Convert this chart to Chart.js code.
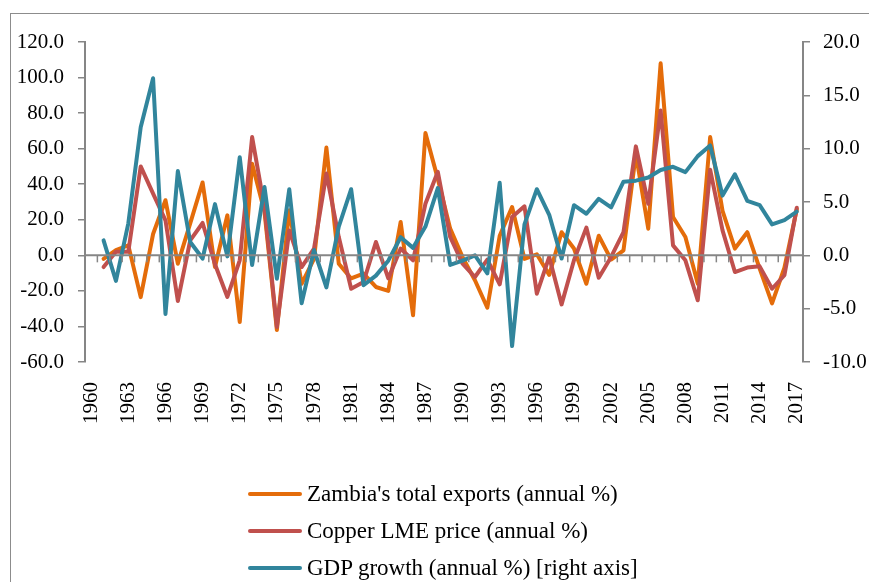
<!DOCTYPE html>
<html>
<head>
<meta charset="utf-8">
<script src="https://cdn.jsdelivr.net/npm/chart.js@4"></script>
<style>
  html, body { margin: 0; padding: 0; background: #fff; overflow: hidden; }
  #wrap { position: relative; width: 869px; height: 582px; overflow: hidden; }
  #frame { position: absolute; left: 10px; top: 13px; width: 900px; height: 620px; border: 1.5px solid #8c8c8c; box-sizing: border-box; }
  #myChart { position: absolute; left: 0; top: 0; }
  #legend { position: absolute; left: 248px; top: 475px; font-family: 'Liberation Serif', serif; font-size: 23px; color: #000; }
  .item { height: 37px; display: flex; align-items: center; white-space: nowrap; }
  .swatch { display: inline-block; width: 54px; height: 4px; border-radius: 2px; margin-right: 5px; }
</style>
</head>
<body>
<div id="wrap">
  <div id="frame"></div>
  <canvas id="myChart" width="869" height="582"></canvas>
  <div id="legend"></div>
</div>
<script>
var years = [];
for (var y = 1960; y <= 2017; y++) years.push(String(y));

var exportsGrowth = [null,
  -2, 3, 5.6, -23.5, 12, 31, -4.7, 18, 41, -6.6,
  22.5, -37.5, 51.5, 24.5, -42, 25.3, -16, -2, 60.6, -4.7,
  -13, -10.3, -17.8, -20, 18.8, -33.7, 68.8, 43, 15, -1,
  -14, -29.5, 11, 27.2, -2, 0.6, -11, 13, 3.8, -16,
  11, -2.4, 2.8, 57, 15, 108, 21.6, 10.3, -16, 66.5,
  25, 3.8, 13, -7.5, -27, -7, 26];

var copperPrice = [null,
  -6.6, 2, 2, 50, 34.7, 19.7, -25.7, 8.4, 18.2, -5,
  -23.4, -2.8, 66.5, 27, -40.3, 14, -6.6, 3.8, 46, 10.3,
  -18.8, -15, 7.5, -13, 3.8, -2.8, 29, 47, 10.3, -4.7,
  -12.2, -2.4, -16.3, 21.6, 27.6, -21.6, -0.9, -27.6, -2.8, 15.6,
  -12.6, -0.9, 13.1, 61.3, 29, 81.5, 5.6, -2.8, -25.3, 48.2,
  14, -9.4, -6.9, -6.2, -18.8, -11.2, 26.8];

var gdpGrowth = [null,
  1.4, -2.4, 3.0, 12.0, 16.6, -5.5, 7.9, 1.25, -0.3, 4.8,
  -0.1, 9.2, -0.9, 6.4, -2.2, 6.2, -4.5, 0.5, -3.0, 2.7,
  6.2, -2.8, -1.9, -0.5, 1.7, 0.7, 2.7, 6.3, -0.9, -0.5,
  0.0, -1.7, 6.8, -8.5, 2.9, 6.2, 3.8, -0.3, 4.7, 3.9,
  5.3, 4.5, 6.9, 7.0, 7.3, 8.0, 8.3, 7.8, 9.3, 10.3,
  5.6, 7.6, 5.1, 4.7, 2.9, 3.3, 4.1];

var seriesNames = ["Zambia's total exports (annual %)", "Copper LME price (annual %)", "GDP growth (annual %) [right axis]"];
var seriesColors = ['#e46c0a', '#c0504d', '#31859c'];

var axisGray = '#868686';
var tickFont = { family: 'Liberation Serif', size: 21 };

// zero line with category tick marks (Excel style axis crossing at 0)
var zeroAxis = {
  id: 'zeroAxis',
  afterDatasetsDraw: function (chart) {
    var ctx = chart.ctx;
    var xs = chart.scales.x;
    var y0 = chart.scales.y.getPixelForValue(0);
    ctx.save();
    ctx.strokeStyle = axisGray;
    ctx.lineWidth = 2;
    ctx.beginPath();
    ctx.moveTo(chart.chartArea.left, y0);
    ctx.lineTo(chart.chartArea.right, y0);
    ctx.stroke();
    ctx.lineWidth = 1.5;
    for (var i = 1; i < years.length; i++) {
      var bx = (xs.getPixelForValue(i - 1) + xs.getPixelForValue(i)) / 2;
      ctx.beginPath();
      ctx.moveTo(bx, y0);
      ctx.lineTo(bx, y0 + 7);
      ctx.stroke();
    }
    ctx.restore();
  }
};

var ctx = document.getElementById('myChart').getContext('2d');
var myChart = new Chart(ctx, {
  type: 'line',
  data: {
    labels: years,
    datasets: [
      { label: seriesNames[0], data: exportsGrowth, borderColor: seriesColors[0], backgroundColor: seriesColors[0], yAxisID: 'y', order: 3 },
      { label: seriesNames[1], data: copperPrice, borderColor: seriesColors[1], backgroundColor: seriesColors[1], yAxisID: 'y', order: 2 },
      { label: seriesNames[2], data: gdpGrowth, borderColor: seriesColors[2], backgroundColor: seriesColors[2], yAxisID: 'y1', order: 1 }
    ]
  },
  options: {
    responsive: false,
    animation: false,
    spanGaps: false,
    elements: {
      line: { borderWidth: 4, tension: 0, borderJoinStyle: 'round', borderCapStyle: 'round' },
      point: { radius: 0 }
    },
    layout: { padding: { left: 0, right: 0, top: 42, bottom: 140 } },
    plugins: { legend: { display: false }, tooltip: { enabled: false } },
    scales: {
      x: {
        offset: true,
        grid: { display: false },
        border: { display: false },
        ticks: {
          autoSkip: false, minRotation: 90, maxRotation: 90, padding: 12,
          color: '#000', font: tickFont,
          callback: function (v, i) { return (i % 3 === 0) ? years[i] : ''; }
        },
        afterFit: function (s) { s.height = 80; }
      },
      y: {
        position: 'left',
        min: -60, max: 120,
        grid: { drawOnChartArea: false, color: axisGray, tickLength: 7, lineWidth: 1.5 },
        border: { color: axisGray, width: 2 },
        ticks: { stepSize: 20, padding: 14, color: '#000', font: tickFont,
          callback: function (v) { return v.toFixed(1); } },
        afterFit: function (s) { s.width = 85; }
      },
      y1: {
        position: 'right',
        min: -10, max: 20,
        grid: { drawOnChartArea: false, color: axisGray, tickLength: 7, lineWidth: 1.5 },
        border: { color: axisGray, width: 2 },
        ticks: { stepSize: 5, padding: 13, color: '#000', font: tickFont,
          callback: function (v) { return v.toFixed(1); } },
        afterFit: function (s) { s.width = 66; }
      }
    }
  },
  plugins: [zeroAxis]
});

// legend, one entry per row
var legend = document.getElementById('legend');
for (var i = 0; i < seriesNames.length; i++) {
  var row = document.createElement('div');
  row.className = 'item';
  var sw = document.createElement('span');
  sw.className = 'swatch';
  sw.style.background = seriesColors[i];
  var tx = document.createElement('span');
  tx.textContent = seriesNames[i];
  row.appendChild(sw);
  row.appendChild(tx);
  legend.appendChild(row);
}
</script>
</body>
</html>
